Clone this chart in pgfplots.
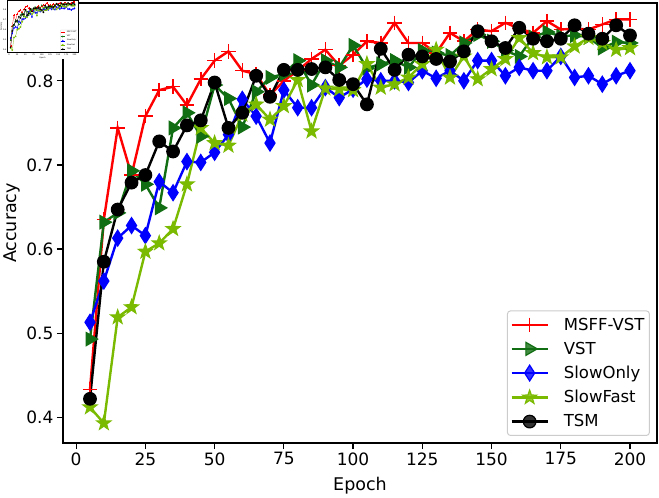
\documentclass[border=0pt]{standalone}
\usepackage{pgfplots}
\pgfplotsset{compat=1.18}
\usepackage{pgfplotstable}
\usepackage{fontspec}
\setmainfont{DejaVu Sans}
\usetikzlibrary{plotmarks}

\definecolor{cmsff}{RGB}{255,0,0}
\definecolor{cvst}{RGB}{18,110,18}
\definecolor{cslowonly}{RGB}{0,0,255}
\definecolor{cslowfast}{RGB}{122,186,0}

% filled five-pointed star
\pgfdeclareplotmark{fstar}{%
  \pgfpathmoveto{\pgfqpointpolar{90}{\pgfplotmarksize}}%
  \pgfpathlineto{\pgfqpointpolar{126}{0.40\pgfplotmarksize}}%
  \pgfpathlineto{\pgfqpointpolar{162}{\pgfplotmarksize}}%
  \pgfpathlineto{\pgfqpointpolar{198}{0.40\pgfplotmarksize}}%
  \pgfpathlineto{\pgfqpointpolar{234}{\pgfplotmarksize}}%
  \pgfpathlineto{\pgfqpointpolar{270}{0.40\pgfplotmarksize}}%
  \pgfpathlineto{\pgfqpointpolar{306}{\pgfplotmarksize}}%
  \pgfpathlineto{\pgfqpointpolar{342}{0.40\pgfplotmarksize}}%
  \pgfpathlineto{\pgfqpointpolar{18}{\pgfplotmarksize}}%
  \pgfpathlineto{\pgfqpointpolar{54}{0.40\pgfplotmarksize}}%
  \pgfpathclose
  \pgfusepathqfillstroke}

% filled disc
\pgfdeclareplotmark{fdisc}{%
  \pgfpathcircle{\pgfpointorigin}{\pgfplotmarksize}%
  \pgfusepathqfillstroke}

% accuracy per epoch for each model
\pgfplotstableread{
epoch msff  vst   slowonly slowfast tsm
5     0.433 0.493 0.513 0.412 0.422
10    0.635 0.632 0.562 0.393 0.585
15    0.744 0.643 0.613 0.519 0.647
20    0.688 0.693 0.628 0.531 0.679
25    0.758 0.677 0.616 0.597 0.688
30    0.789 0.649 0.680 0.607 0.728
35    0.793 0.744 0.667 0.624 0.716
40    0.771 0.762 0.704 0.677 0.747
45    0.802 0.734 0.703 0.744 0.753
50    0.824 0.795 0.715 0.726 0.798
55    0.835 0.779 0.736 0.723 0.744
60    0.812 0.745 0.778 0.760 0.762
65    0.808 0.787 0.758 0.772 0.806
70    0.783 0.804 0.726 0.754 0.781
75    0.800 0.808 0.789 0.770 0.813
80    0.812 0.824 0.768 0.801 0.813
85    0.826 0.795 0.768 0.740 0.814
90    0.837 0.824 0.792 0.791 0.816
95    0.818 0.816 0.780 0.790 0.801
100   0.831 0.842 0.790 0.789 0.796
105   0.847 0.815 0.802 0.820 0.772
110   0.845 0.820 0.800 0.792 0.838
115   0.869 0.824 0.800 0.796 0.813
120   0.845 0.816 0.798 0.804 0.831
125   0.845 0.836 0.812 0.820 0.829
130   0.833 0.833 0.803 0.837 0.826
135   0.857 0.830 0.812 0.804 0.823
140   0.847 0.845 0.800 0.829 0.835
145   0.861 0.855 0.824 0.802 0.859
150   0.859 0.847 0.824 0.814 0.847
155   0.869 0.836 0.806 0.826 0.839
160   0.862 0.829 0.816 0.851 0.863
165   0.857 0.852 0.812 0.833 0.850
170   0.871 0.858 0.812 0.828 0.847
175   0.861 0.853 0.829 0.828 0.850
180   0.862 0.854 0.804 0.841 0.866
185   0.861 0.852 0.806 0.851 0.856
190   0.867 0.839 0.796 0.845 0.850
195   0.873 0.846 0.806 0.837 0.866
200   0.873 0.845 0.812 0.839 0.854
}\acc

\pgfplotsset{
  sMSFF/.style={color=cmsff, line width=\lw, mark=+, mark size=\msz*1.15,
    mark options={solid, line width=\mlw*1.3}},
  sVST/.style={color=cvst, line width=\lw, mark=triangle*, mark size=\msz*1.2,
    mark options={solid, fill=cvst, rotate=-90, line width=\mlw}},
  sSlowOnly/.style={color=cslowonly, line width=\lw, mark=diamond*, mark size=\msz*1.25,
    mark options={solid, fill=cslowonly, xscale=0.85, line width=\mlw}},
  sSlowFast/.style={color=cslowfast, line width=\lw, mark=fstar, mark size=\msz*1.15,
    mark options={solid, fill=cslowfast, line width=\mlw}},
  sTSM/.style={color=black, line width=\lw, mark=fdisc, mark size=\msz,
    mark options={solid, draw=black, fill=black, line width=\mlw}},
}

\begin{document}
\begin{tikzpicture}
% main chart
\begin{scope}
\def\lw{2.4pt}\def\msz{6.3pt}\def\mlw{1.2pt}
\begin{axis}[
  at={(0pt,0pt)}, anchor=south west,
  scale only axis, width=594pt, height=440pt,
  xmin=-4.75, xmax=209.75, ymin=0.3695, ymax=0.8925,
  xtick={0,25,...,200}, xticklabels={0,25,50,75,100,125,150,175,200},
  ytick={0.4,0.5,0.6,0.7,0.8}, yticklabels={0.4,0.5,0.6,0.7,0.8},
  tick pos=left, tick align=outside, major tick length=6pt,
  every tick/.style={black, line width=1.3pt},
  axis line style={line width=1.6pt},
  /pgf/number format/assume math mode=true,
  tick label style={font=\fontsize{17}{20}\selectfont},
  label style={font=\fontsize{17.5}{21}\selectfont},
  xlabel={Epoch}, ylabel={Accuracy},
  xlabel style={at={(axis description cs:0.5,-0.098)}, anchor=center},
  ylabel style={at={(axis description cs:-0.086,0.5)}, anchor=center},
  legend cell align=left,
  legend image code/.code={\draw[mark repeat=2, mark phase=2] plot coordinates {(0pt,0pt) (18pt,0pt) (36pt,0pt)};},
  legend style={at={(0.988,0.016)}, anchor=south east, draw=black!20, line width=1pt,
    rounded corners=3pt, fill=white, fill opacity=0.8, text opacity=1,
    font=\fontsize{16.5}{19}\selectfont, row sep=6.3pt, inner xsep=3pt, inner ysep=5pt,
    /tikz/every odd column/.append style={column sep=13pt}},
]
\addplot[sMSFF] table[x=epoch, y=msff] {\acc};
\addlegendentry{MSFF-VST}
\addplot[sVST] table[x=epoch, y=vst] {\acc};
\addlegendentry{VST}
\addplot[sSlowOnly] table[x=epoch, y=slowonly] {\acc};
\addlegendentry{SlowOnly}
\addplot[sSlowFast] table[x=epoch, y=slowfast] {\acc};
\addlegendentry{SlowFast}
\addplot[sTSM] table[x=epoch, y=tsm] {\acc};
\addlegendentry{TSM}
\end{axis}
\end{scope}

% small preview of the same chart in the corner
\fill[white] (-63pt,443pt) rectangle (15pt,384pt);
\begin{scope}
\def\lw{0.28pt}\def\msz{0.75pt}\def\mlw{0.15pt}
\begin{axis}[
  at={(-55.54pt,390.55pt)}, anchor=south west,
  scale only axis, width=70.33pt, height=52.1pt,
  xmin=-4.75, xmax=209.75, ymin=0.3695, ymax=0.8925,
  xtick={0,25,...,200}, xticklabels={0,25,50,75,100,125,150,175,200},
  ytick={0.4,0.5,0.6,0.7,0.8}, yticklabels={0.4,0.5,0.6,0.7,0.8},
  tick pos=left, tick align=outside, major tick length=0.7pt,
  every tick/.style={black, line width=0.15pt},
  axis line style={line width=0.2pt},
  /pgf/number format/assume math mode=true,
  tick label style={font=\fontsize{2}{2.4}\selectfont, inner sep=0.3pt},
  label style={font=\fontsize{2}{2.4}\selectfont, inner sep=0.3pt},
  xlabel={Epoch}, ylabel={Accuracy},
  xlabel style={at={(axis description cs:0.5,-0.098)}, anchor=center},
  ylabel style={at={(axis description cs:-0.086,0.5)}, anchor=center},
  legend cell align=left,
  legend image code/.code={\draw[mark repeat=2, mark phase=2] plot coordinates {(0pt,0pt) (2.1pt,0pt) (4.2pt,0pt)};},
  legend style={at={(0.988,0.016)}, anchor=south east, draw=black!20, line width=0.12pt,
    rounded corners=0.4pt, fill=white, fill opacity=0.8, text opacity=1,
    font=\fontsize{1.95}{2.25}\selectfont, row sep=0.75pt, inner xsep=0.35pt, inner ysep=0.6pt,
    nodes={inner sep=0.25pt}, /tikz/every odd column/.append style={column sep=1.5pt}},
]
\addplot[sMSFF] table[x=epoch, y=msff] {\acc};
\addlegendentry{MSFF-VST}
\addplot[sVST] table[x=epoch, y=vst] {\acc};
\addlegendentry{VST}
\addplot[sSlowOnly] table[x=epoch, y=slowonly] {\acc};
\addlegendentry{SlowOnly}
\addplot[sSlowFast] table[x=epoch, y=slowfast] {\acc};
\addlegendentry{SlowFast}
\addplot[sTSM] table[x=epoch, y=tsm] {\acc};
\addlegendentry{TSM}
\end{axis}
\end{scope}

\pgfresetboundingbox
\path[use as bounding box] (-63pt,-55pt) rectangle (596pt,443pt);
\end{tikzpicture}
\end{document}
